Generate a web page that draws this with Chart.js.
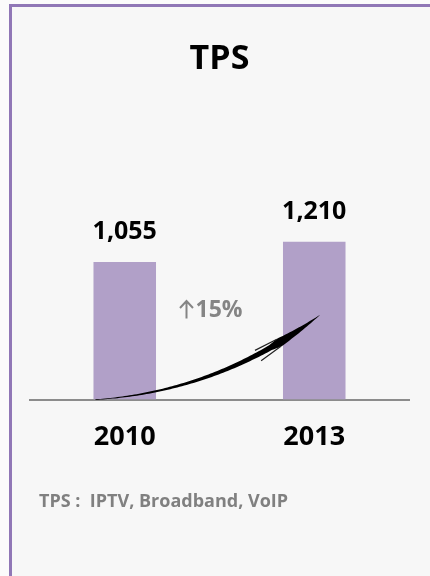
<!DOCTYPE html>
<html lang="en">
<head>
    <meta charset="UTF-8">
    <title>TPS</title>
    <script src="https://cdn.jsdelivr.net/npm/chart.js"></script>
    <style>
        body {
            margin: 0;
            background-color: #fbfbfb;
            font-family: 'Open Sans', sans-serif;
        }

        .frame {
            position: absolute;
            left: 9px;
            top: 4px;
            width: 430px;
            height: 580px;
            background-color: #f7f7f7;
            border-top: 3px solid #9077b6;
            border-left: 3px solid #9077b6;
        }

        canvas {
            position: absolute;
            left: 0;
            top: 0;
        }

        .note {
            position: absolute;
            left: 39px;
            top: 488px;
            color: #808080;
            font-weight: bold;
            font-size: 18px;
            white-space: pre;
        }
    </style>
</head>
<body>
    <div class="frame"></div>
    <canvas id="tpsChart" width="430" height="576"></canvas>
    <div class="note">TPS :  IPTV, Broadband, VoIP</div>

    <script>
        const years = ['2010', '2013'];
        const subscribers = [1055, 1210];

        // growth between the two years, shown as a percentage
        const growth = Math.round((subscribers[1] / subscribers[0] - 1) * 100);

        // value labels above each bar
        const valueLabels = {
            id: 'valueLabels',
            afterDatasetsDraw(chart) {
                const ctx = chart.ctx;
                const meta = chart.getDatasetMeta(0);
                ctx.save();
                ctx.font = 'bold 25px "Open Sans"';
                ctx.fillStyle = '#000';
                ctx.textAlign = 'center';
                ctx.textBaseline = 'alphabetic';
                meta.data.forEach((bar, i) => {
                    ctx.fillText(subscribers[i].toLocaleString('en-US'), bar.x, bar.y - 23);
                });
                ctx.restore();
            }
        };

        // curved swoosh arrow and growth label between the bars
        const growthArrow = {
            id: 'growthArrow',
            afterDatasetsDraw(chart) {
                const ctx = chart.ctx;
                const meta = chart.getDatasetMeta(0);
                const yScale = chart.scales.y;
                const b0 = meta.data[0], b1 = meta.data[1];
                const base = yScale.getPixelForValue(0);

                const p0 = { x: b0.x - b0.width / 2 + 2, y: base };
                const p2 = { x: b1.x + 6, y: yScale.getPixelForValue(650) };
                const p1 = { x: p0.x + (p2.x - p0.x) * 0.55, y: base - 8 };

                const pt = t => ({
                    x: (1 - t) * (1 - t) * p0.x + 2 * (1 - t) * t * p1.x + t * t * p2.x,
                    y: (1 - t) * (1 - t) * p0.y + 2 * (1 - t) * t * p1.y + t * t * p2.y
                });
                const normal = t => {
                    const dx = 2 * (1 - t) * (p1.x - p0.x) + 2 * t * (p2.x - p1.x);
                    const dy = 2 * (1 - t) * (p1.y - p0.y) + 2 * t * (p2.y - p1.y);
                    const len = Math.hypot(dx, dy);
                    return { x: -dy / len, y: dx / len };
                };
                const width = t => {
                    if (t < 0.76) return 0.6 + 4.8 * Math.pow(t / 0.76, 1.1);
                    if (t < 0.8) return 5.4 + (t - 0.76) * 90;
                    return 9 * (1 - t) / 0.2;
                };

                const left = [], right = [];
                for (let i = 0; i <= 100; i++) {
                    const t = i / 100;
                    const p = pt(t), n = normal(t), w = width(t) / 2;
                    left.push({ x: p.x + n.x * w, y: p.y + n.y * w });
                    right.push({ x: p.x - n.x * w, y: p.y - n.y * w });
                }
                ctx.save();
                ctx.fillStyle = '#000';
                ctx.beginPath();
                left.forEach((p, i) => i ? ctx.lineTo(p.x, p.y) : ctx.moveTo(p.x, p.y));
                right.reverse().forEach(p => ctx.lineTo(p.x, p.y));
                ctx.closePath();
                ctx.fill();

                // small barbs at the head
                const h = pt(0.8), n = normal(0.8);
                const back = pt(0.7);
                ctx.strokeStyle = '#222';
                ctx.lineWidth = 1.2;
                ctx.beginPath();
                ctx.moveTo(h.x + n.x * 4, h.y + n.y * 4);
                ctx.lineTo(back.x + n.x * 7, back.y + n.y * 7);
                ctx.moveTo(h.x - n.x * 4, h.y - n.y * 4);
                ctx.lineTo(back.x - n.x * 5, back.y - n.y * 5);
                ctx.stroke();

                // growth label: thin up arrow followed by the percentage
                const ly = yScale.getPixelForValue(690);
                const ax = (b0.x + b1.x) / 2 - 33;
                ctx.strokeStyle = '#858585';
                ctx.lineWidth = 2;
                ctx.beginPath();
                ctx.moveTo(ax, ly + 9);
                ctx.lineTo(ax, ly - 8);
                ctx.moveTo(ax - 6.5, ly - 1.5);
                ctx.lineTo(ax, ly - 8.5);
                ctx.lineTo(ax + 6.5, ly - 1.5);
                ctx.stroke();

                ctx.font = 'bold 23px "Open Sans"';
                ctx.fillStyle = '#858585';
                ctx.textAlign = 'left';
                ctx.textBaseline = 'middle';
                ctx.fillText(growth + '%', ax + 9, ly + 1);
                ctx.restore();
            }
        };

        new Chart(document.getElementById('tpsChart'), {
            type: 'bar',
            data: {
                labels: years,
                datasets: [{
                    data: subscribers,
                    backgroundColor: '#b1a0c8',
                    barPercentage: 0.66,
                    categoryPercentage: 0.5
                }]
            },
            options: {
                responsive: false,
                animation: false,
                layout: {
                    padding: { left: 30, right: 21, top: 0, bottom: 100 }
                },
                plugins: {
                    legend: { display: false },
                    tooltip: { enabled: false },
                    title: {
                        display: true,
                        text: 'TPS',
                        color: '#000',
                        font: { family: 'Open Sans', size: 34, weight: 'bold' },
                        padding: { top: 39, bottom: 111 }
                    }
                },
                scales: {
                    x: {
                        grid: { display: false, drawTicks: false },
                        border: { display: true, color: '#8c8c8c', width: 2 },
                        ticks: {
                            color: '#000',
                            padding: 22,
                            font: { family: 'Open Sans', size: 27, weight: 'bold' }
                        }
                    },
                    y: {
                        display: false,
                        min: 0,
                        max: 1600
                    }
                }
            },
            plugins: [valueLabels, growthArrow]
        });
    </script>
</body>
</html>
